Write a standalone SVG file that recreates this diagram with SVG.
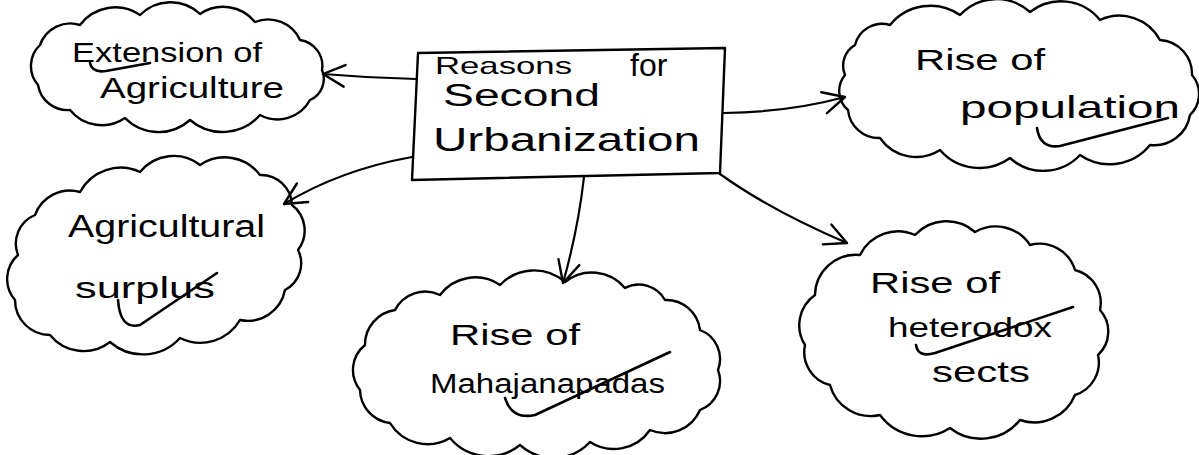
<svg xmlns="http://www.w3.org/2000/svg" width="1199" height="455" viewBox="0 0 1199 455">
  <style>
    .cloud { fill: none; stroke: #000; stroke-width: 2.4; stroke-linejoin: round; stroke-linecap: round; }
    .box { fill: none; stroke: #000; stroke-width: 2.4; stroke-linejoin: round; }
    .label { font-family: "Liberation Sans", "DejaVu Sans", sans-serif; fill: #000; }
    .tick { fill: none; stroke: #000; stroke-width: 2.6; stroke-linecap: round; stroke-linejoin: round; }
    .edge { fill: none; stroke: #000; stroke-width: 2.2; stroke-linecap: round; }
  </style>
  <defs>
    <marker id="vhead" viewBox="0 0 24 24" refX="22" refY="12" markerWidth="26" markerHeight="26" markerUnits="userSpaceOnUse" orient="auto">
      <path d="M2,2 L22,12 L2,22" fill="none" stroke="#000" stroke-width="2.2" stroke-linecap="round" stroke-linejoin="round"/>
    </marker>
  </defs>
  <rect width="1199" height="455" fill="#fff"/>

  <!-- central topic box -->
  <g id="center">
    <path class="box" d="M418,53 L725,48 L720,173 L412,180 Z"/>
    <text class="label" x="435" y="74" font-size="24" textLength="137" lengthAdjust="spacingAndGlyphs">Reasons</text>
    <text class="label" x="630" y="76" font-size="32">for</text>
    <text class="label" x="443" y="106" font-size="31" textLength="157" lengthAdjust="spacingAndGlyphs">Second</text>
    <text class="label" x="433" y="151" font-size="33" textLength="267" lengthAdjust="spacingAndGlyphs">Urbanization</text>
  </g>

  <!-- Extension of Agriculture -->
  <g id="extension">
    <path class="cloud" d="M40,45 A32,32 0 0 1 80,25 A44,44 0 0 1 140,15 A43,43 0 0 1 200,14 A41,41 0 0 1 255,22 A35,35 0 0 1 300,40 A26,26 0 0 1 322,70 A23,23 0 0 1 310,100 A37,37 0 0 1 260,115 A50,50 0 0 1 190,120 A47,47 0 0 1 125,118 A41,41 0 0 1 70,110 A30,30 0 0 1 38,85 A29,29 0 0 1 40,45 Z"/>
    <text class="label" x="72" y="62" font-size="28" textLength="190" lengthAdjust="spacingAndGlyphs">Extension of</text>
    <text class="label" x="100" y="98" font-size="29" textLength="184" lengthAdjust="spacingAndGlyphs">Agriculture</text>
    <path class="tick" d="M90,63 Q92,73 106,71 L150,63"/>
  </g>

  <!-- Rise of population -->
  <g id="population">
    <path class="cloud" d="M855,45 A28,28 0 0 1 890,25 A52,52 0 0 1 960,15 A50,50 0 0 1 1030,12 A50,50 0 0 1 1100,20 A46,46 0 0 1 1160,40 A34,34 0 0 1 1192,75 A29,29 0 0 1 1190,115 A36,36 0 0 1 1150,145 A52,52 0 0 1 1080,155 A50,50 0 0 1 1010,158 A52,52 0 0 1 940,150 A44,44 0 0 1 880,138 A31,31 0 0 1 848,110 A25,25 0 0 1 845,75 A24,24 0 0 1 855,45 Z"/>
    <text class="label" x="915" y="70" font-size="30" textLength="130" lengthAdjust="spacingAndGlyphs">Rise of</text>
    <text class="label" x="960" y="118" font-size="32" textLength="220" lengthAdjust="spacingAndGlyphs">population</text>
    <path class="tick" d="M1037,128 Q1040,149 1060,146 L1168,118"/>
  </g>

  <!-- Agricultural surplus -->
  <g id="surplus">
    <path class="cloud" d="M35,215 A37,37 0 0 1 80,192 A46,46 0 0 1 140,172 A43,43 0 0 1 200,165 A44,44 0 0 1 260,175 A31,31 0 0 1 292,205 A32,32 0 0 1 298,250 A30,30 0 0 1 285,290 A38,38 0 0 1 240,320 A46,46 0 0 1 180,338 A50,50 0 0 1 110,342 A43,43 0 0 1 50,335 A35,35 0 0 1 15,300 A32,32 0 0 1 18,255 A31,31 0 0 1 35,215 Z"/>
    <text class="label" x="68" y="237" font-size="31" textLength="197" lengthAdjust="spacingAndGlyphs">Agricultural</text>
    <text class="label" x="75" y="298" font-size="30" textLength="140" lengthAdjust="spacingAndGlyphs">surplus</text>
    <path class="tick" d="M118,300 Q120,330 140,325 L217,273"/>
  </g>

  <!-- Rise of Mahajanapadas -->
  <g id="mahajanapadas">
    <path class="cloud" d="M395,310 A34,34 0 0 1 440,295 A44,44 0 0 1 500,285 A47,47 0 0 1 565,282 A43,43 0 0 1 625,288 A30,30 0 0 1 665,300 A34,34 0 0 1 700,330 A31,31 0 0 1 718,370 A31,31 0 0 1 700,410 A38,38 0 0 1 650,430 A44,44 0 0 1 590,442 A50,50 0 0 1 520,445 A50,50 0 0 1 450,438 A44,44 0 0 1 390,423 A34,34 0 0 1 360,390 A32,32 0 0 1 365,345 A35,35 0 0 1 395,310 Z"/>
    <text class="label" x="450" y="345" font-size="30" textLength="130" lengthAdjust="spacingAndGlyphs">Rise of</text>
    <text class="label" x="430" y="393" font-size="27" textLength="235" lengthAdjust="spacingAndGlyphs">Mahajanapadas</text>
    <path class="tick" d="M505,398 Q512,420 535,415 L670,352"/>
  </g>

  <!-- Rise of heterodox sects -->
  <g id="heterodox">
    <path class="cloud" d="M860,255 A42,42 0 0 1 915,235 A43,43 0 0 1 975,232 A41,41 0 0 1 1030,245 A37,37 0 0 1 1075,270 A34,34 0 0 1 1100,310 A32,32 0 0 1 1098,355 A34,34 0 0 1 1075,395 A44,44 0 0 1 1020,420 A50,50 0 0 1 950,428 A52,52 0 0 1 880,415 A42,42 0 0 1 830,385 A34,34 0 0 1 805,345 A37,37 0 0 1 815,295 A41,41 0 0 1 860,255 Z"/>
    <text class="label" x="870" y="293" font-size="30" textLength="130" lengthAdjust="spacingAndGlyphs">Rise of</text>
    <text class="label" x="888" y="337" font-size="28" textLength="164" lengthAdjust="spacingAndGlyphs">heterodox</text>
    <text class="label" x="932" y="382" font-size="30" textLength="98" lengthAdjust="spacingAndGlyphs">sects</text>
    <path class="tick" d="M916,345 Q918,358 935,353 L1073,307"/>
  </g>

  <!-- connectors from the central box to each cause -->
  <g id="connectors">
    <path class="edge" marker-end="url(#vhead)" d="M416,79 Q370,78 323,74"/>
    <path class="edge" marker-end="url(#vhead)" d="M412,157 Q340,170 284,204"/>
    <path class="edge" marker-end="url(#vhead)" d="M724,113 Q790,112 845,97"/>
    <path class="edge" marker-end="url(#vhead)" d="M584,177 Q578,230 563,283"/>
    <path class="edge" marker-end="url(#vhead)" d="M720,174 Q770,210 847,243"/>
  </g>
</svg>
